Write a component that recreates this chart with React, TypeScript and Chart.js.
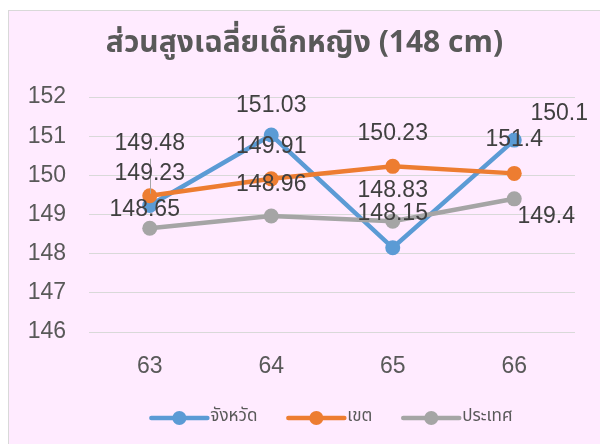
import React, { useEffect, useRef } from "react";
import { Chart, registerables } from "chart.js";

Chart.register(...registerables);

const categories = ["63", "64", "65", "66"];
const seriesNames = ["จังหวัด", "เขต", "ประเทศ"];
const provinceValues = [149.23, 151.03, 148.15, 150.9];
const regionValues = [149.48, 149.91, 150.23, 150.05];
const countryValues = [148.65, 148.96, 148.83, 149.4];
const provinceLabels = ["149.23", "151.03", "148.15", "151.4"];
const regionLabels = ["149.48", "149.91", "150.23", "150.1"];
const countryLabels = ["148.65", "148.96", "148.83", "149.4"];
const yMin = 146;
const yMax = 152;
const yStep = 1;
const titleText = "ส่วนสูงเฉลี่ยเด็กหญิง (148 cm)";

const colors = ["#5B9BD5", "#ED7D31", "#A5A5A5"];
const allLabels = [provinceLabels, regionLabels, countryLabels];

const THAI_FONT = "Tahoma, 'Noto Sans Thai', 'Noto Sans', 'DejaVu Sans', sans-serif";
const NUM_FONT = "'Liberation Sans', Arial, sans-serif";

// label offsets relative to each point [dx, dy]
const labelOffsets = [
  [[0, -32], [0, -29], [0, -34], [0, 0]],
  [[0, -52], [0, -32], [0, -33], [45, -60]],
  [[-5, -19], [0, -31], [0, -31], [32, 18]],
];

const dataLabelPlugin = {
  id: "dataLabelPlugin",
  afterDatasetsDraw(chart: any) {
    const ctx = chart.ctx;
    ctx.save();
    const m1 = chart.getDatasetMeta(1);
    if (m1 && m1.data[0]) {
      const p = m1.data[0];
      ctx.strokeStyle = "#A6A6A6";
      ctx.lineWidth = 1;
      ctx.beginPath();
      ctx.moveTo(Math.round(p.x) + 0.5, p.y + labelOffsets[1][0][1] + 15);
      ctx.lineTo(Math.round(p.x) + 0.5, p.y - 2);
      ctx.stroke();
    }
    ctx.font = `23px ${NUM_FONT}`;
    ctx.fillStyle = "#404040";
    ctx.textAlign = "center";
    ctx.textBaseline = "middle";
    chart.data.datasets.forEach((ds: any, di: number) => {
      const meta = chart.getDatasetMeta(di);
      meta.data.forEach((pt: any, i: number) => {
        const off = labelOffsets[di][i];
        ctx.fillText(allLabels[di][i], pt.x + off[0], pt.y + off[1]);
      });
    });
    ctx.restore();
  },
  afterDraw(chart: any) {
    const ctx = chart.ctx;
    const area = chart.chartArea;
    ctx.save();
    // title
    ctx.font = `bold 30px ${THAI_FONT}`;
    ctx.fillStyle = "#595959";
    ctx.textAlign = "center";
    ctx.textBaseline = "middle";
    ctx.fillText(titleText, chart.width / 2, 35);
    // legend
    ctx.font = `17px ${THAI_FONT}`;
    const lineLen = 56;
    const gapText = 3;
    const gapItem = 31;
    const widths = seriesNames.map((n) => lineLen + gapText + ctx.measureText(n).width);
    const total = widths.reduce((a, b) => a + b, 0) + gapItem * (widths.length - 1);
    let x = (area.left + area.right) / 2 - total / 2;
    const y = chart.height - 26;
    seriesNames.forEach((name, i) => {
      ctx.strokeStyle = colors[i];
      ctx.lineWidth = 4.5;
      ctx.lineCap = "round";
      ctx.beginPath();
      ctx.moveTo(x, y);
      ctx.lineTo(x + lineLen, y);
      ctx.stroke();
      ctx.fillStyle = colors[i];
      ctx.beginPath();
      ctx.arc(x + lineLen / 2, y, 7, 0, Math.PI * 2);
      ctx.fill();
      ctx.fillStyle = "#595959";
      ctx.textAlign = "left";
      ctx.textBaseline = "middle";
      ctx.fillText(name, x + lineLen + gapText, y);
      x += widths[i] + gapItem;
    });
    ctx.restore();
  },
};

export default function App() {
  const ref = useRef<HTMLCanvasElement | null>(null);
  useEffect(() => {
    if (!ref.current) return;
    const valueSets = [provinceValues, regionValues, countryValues];
    const chart = new Chart(ref.current, {
      type: "line",
      data: {
        labels: categories,
        datasets: valueSets.map((vals, i) => ({
          label: seriesNames[i],
          data: vals,
          borderColor: colors[i],
          backgroundColor: colors[i],
          borderWidth: 4.5,
          pointRadius: 7.5,
          pointBorderWidth: 0,
          pointBackgroundColor: colors[i],
          tension: 0,
          order: 2 - i,
        })),
      },
      options: {
        responsive: false,
        animation: false,
        devicePixelRatio: 1,
        layout: { padding: { left: 0, right: 25, top: 86, bottom: 67 } },
        plugins: {
          legend: { display: false },
          tooltip: { enabled: false },
          title: { display: false },
        },
        scales: {
          x: {
            offset: true,
            afterFit: (s: any) => {
              s.height = 45;
            },
            grid: { display: false, drawTicks: false },
            border: { display: false },
            ticks: {
              color: "#595959",
              font: { family: NUM_FONT, size: 23 },
              padding: 21,
            },
          },
          y: {
            min: yMin,
            max: yMax,
            afterFit: (s: any) => {
              s.width = 80;
            },
            grid: { color: "#D9D9D9", lineWidth: 1, drawTicks: false },
            border: { display: false },
            ticks: {
              stepSize: yStep,
              color: "#595959",
              font: { family: NUM_FONT, size: 23 },
              padding: 23,
            },
          },
        },
      },
      plugins: [dataLabelPlugin],
    });
    return () => chart.destroy();
  }, []);
  return (
    <div
      style={{
        position: "fixed",
        left: 8,
        top: 10,
        width: 592,
        height: 434,
        boxSizing: "border-box",
        borderLeft: "1px solid #D9D9D9",
        borderTop: "1px solid #D9D9D9",
        background: "#FFEBFF",
      }}
    >
      <canvas ref={ref} width={591} height={433} style={{ display: "block" }} />
    </div>
  );
}
